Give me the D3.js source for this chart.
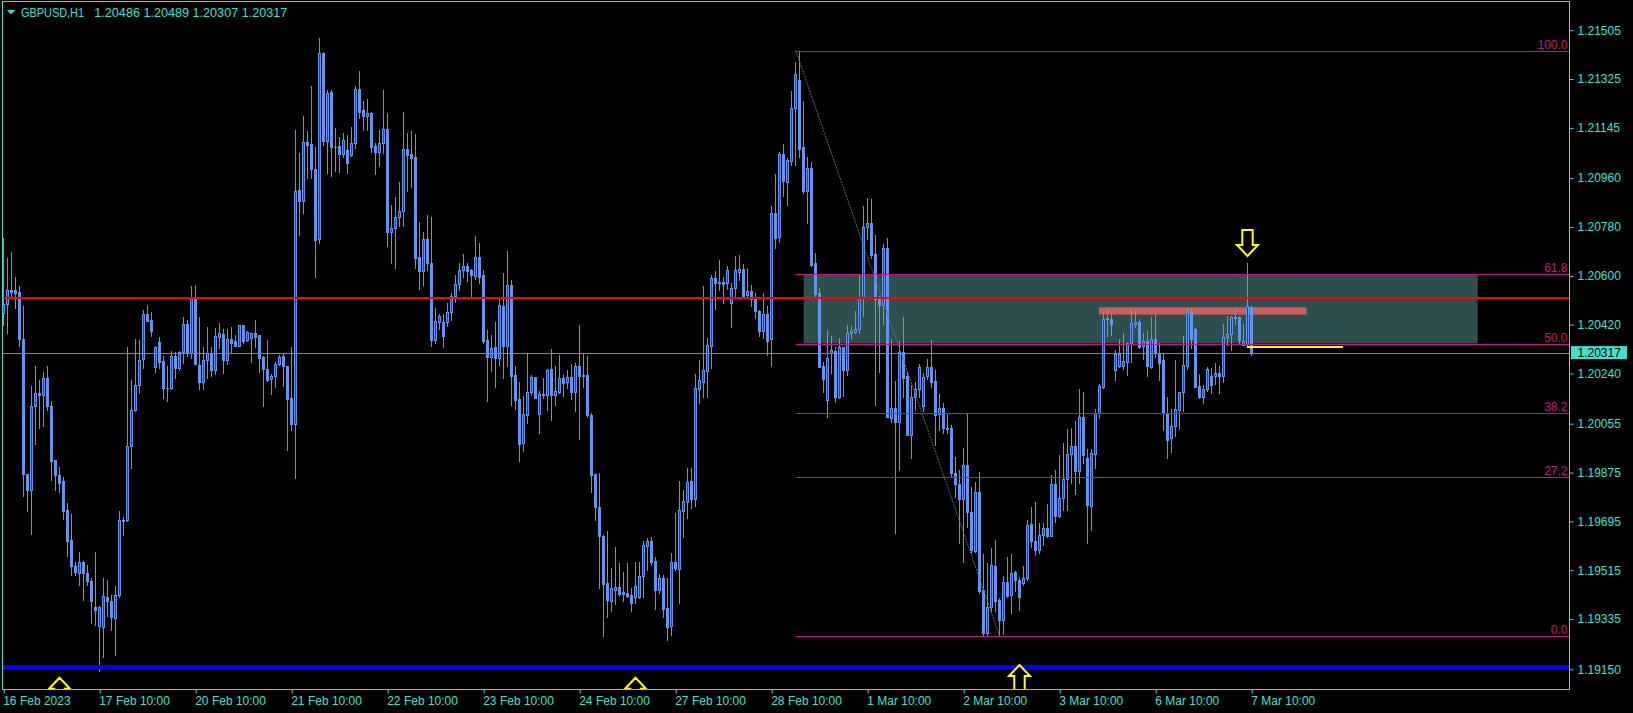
<!DOCTYPE html>
<html><head><meta charset="utf-8">
<script src="https://cdn.jsdelivr.net/npm/d3@7"></script>
<style>html,body{margin:0;padding:0;background:#000;overflow:hidden}</style>
</head><body><svg id="c" width="1633" height="713"></svg>
<script>
// ---- data (GBPUSD H1, 16 Feb 10:00 -> 7 Mar 10:00) ----
const symbol = "GBPUSD,H1";
const opens = [
1.20462,1.20495,1.20548,1.20548,1.20541,1.20366,1.19870,1.19809,1.20122,1.20167,
1.20162,1.20223,1.20121,1.19920,1.19867,1.19845,1.19738,1.19627,1.19531,1.19504,
1.19547,1.19504,1.19476,1.19380,1.19308,1.19305,1.19416,1.19402,1.19339,1.19422,
1.19701,1.19701,1.19971,1.20104,1.20196,1.20293,1.20460,1.20438,1.20263,1.20355,
1.20287,1.20188,1.20185,1.20305,1.20262,1.20321,1.20422,1.20315,1.20517,1.20272,
1.20210,1.20290,1.20317,1.20253,1.20376,1.20385,1.20290,1.20368,1.20360,1.20343,
1.20419,1.20362,1.20370,1.20389,1.20382,1.20299,1.20256,1.20219,1.20229,1.20276,
1.20303,1.20268,1.20149,1.20055,1.20917,1.20877,1.21092,1.21086,1.20995,1.20735,
1.21422,1.21095,1.21276,1.21074,1.21079,1.21050,1.21064,1.21046,1.21089,1.21287,
1.21211,1.21189,1.21201,1.21079,1.21058,1.21088,1.21140,1.20763,1.20775,1.20816,
1.20837,1.21066,1.21048,1.21037,1.20668,1.20619,1.20735,1.20646,1.20362,1.20428,
1.20429,1.20430,1.20465,1.20527,1.20569,1.20620,1.20637,1.20620,1.20599,1.20669,
1.20603,1.20364,1.20299,1.20337,1.20296,1.20489,1.20342,1.20566,1.20234,1.20146,
1.19983,1.20087,1.20171,1.20228,1.20090,1.20165,1.20161,1.20257,1.20159,1.20173,
1.20224,1.20210,1.20228,1.20170,1.20268,1.20232,1.20235,1.20087,1.19869,1.19749,
1.19643,1.19467,1.19403,1.19444,1.19452,1.19434,1.19430,1.19424,1.19415,1.19418,
1.19492,1.19606,1.19623,1.19550,1.19442,1.19485,1.19375,1.19311,1.19547,1.19520,
1.19735,1.19768,1.19845,1.19778,1.20183,1.20210,1.20250,1.20343,1.20591,1.20576,
1.20576,1.20575,1.20499,1.20554,1.20615,1.20625,1.20530,1.20544,1.20515,1.20472,
1.20398,1.20460,1.20366,1.20830,1.20744,1.21048,1.20947,1.21024,1.21220,1.21322,
1.21074,1.20914,1.20996,1.20646,1.20535,1.20267,1.20143,1.20315,1.20324,1.20155,
1.20337,1.20253,1.20388,1.20392,1.20403,1.20517,1.20781,1.20796,1.20681,1.20513,
1.20493,1.20701,1.20077,1.20112,1.20060,1.20321,1.20229,1.20014,1.20152,1.20182,
1.20122,1.20230,1.20263,1.20212,1.20089,1.20112,1.20040,1.20038,1.19875,1.19832,
1.19777,1.19901,1.19729,1.19587,1.19805,1.19443,1.19283,1.19381,1.19531,1.19406,
1.19330,1.19471,1.19422,1.19508,1.19479,1.19467,1.19488,1.19686,1.19623,1.19588,
1.19645,1.19670,1.19643,1.19833,1.19716,1.19780,1.19852,1.19944,1.19971,1.19882,
1.20079,1.19928,1.19753,1.19943,1.20096,1.20192,1.20440,1.20440,1.20253,1.20268,
1.20268,1.20284,1.20351,1.20422,1.20429,1.20340,1.20358,1.20265,1.20366,1.20317,
1.20288,1.20094,1.20002,1.20045,1.20106,1.20170,1.20266,1.20465,1.20403,1.20194,
1.20155,1.20182,1.20231,1.20229,1.20243,1.20229,1.20376,1.20385,1.20444,1.20447,
1.20345,1.20349,1.20486];
const highs = [
1.20738,1.20665,1.20687,1.20595,1.20563,1.20489,1.19870,1.20195,1.20268,1.20217,
1.20247,1.20268,1.20139,1.19922,1.19897,1.19857,1.19762,1.19723,1.19547,1.19584,
1.19550,1.19535,1.19486,1.19584,1.19382,1.19486,1.19480,1.19425,1.19458,1.19734,
1.19713,1.20337,1.20217,1.20368,1.20362,1.20474,1.20493,1.20466,1.20342,1.20373,
1.20303,1.20266,1.20323,1.20321,1.20323,1.20447,1.20438,1.20563,1.20567,1.20450,
1.20339,1.20413,1.20339,1.20407,1.20425,1.20403,1.20404,1.20411,1.20382,1.20419,
1.20419,1.20395,1.20391,1.20438,1.20382,1.20305,1.20364,1.20239,1.20284,1.20309,
1.20311,1.20268,1.20339,1.21138,1.21052,1.21189,1.21132,1.21300,1.21076,1.21475,
1.21426,1.21283,1.21285,1.21144,1.21113,1.21128,1.21119,1.21147,1.21300,1.21355,
1.21244,1.21250,1.21205,1.21088,1.21138,1.21285,1.21199,1.20861,1.20892,1.20944,
1.21203,1.21125,1.21134,1.21122,1.20800,1.20763,1.20825,1.20816,1.20481,1.20460,
1.20460,1.20499,1.20536,1.20603,1.20646,1.20681,1.20646,1.20624,1.20747,1.20720,
1.20622,1.20401,1.20382,1.20428,1.20514,1.20612,1.20692,1.20585,1.20266,1.20210,
1.20158,1.20317,1.20235,1.20228,1.20176,1.20225,1.20256,1.20331,1.20268,1.20308,
1.20235,1.20253,1.20275,1.20278,1.20419,1.20317,1.20305,1.20096,1.19870,1.19875,
1.19645,1.19660,1.19522,1.19600,1.19543,1.19510,1.19543,1.19449,1.19547,1.19547,
1.19621,1.19633,1.19639,1.19565,1.19501,1.19498,1.19485,1.19578,1.19727,1.19845,
1.19811,1.19891,1.19891,1.20238,1.20290,1.20563,1.20372,1.20603,1.20618,1.20659,
1.20597,1.20636,1.20575,1.20673,1.20677,1.20644,1.20627,1.20566,1.20536,1.20474,
1.20536,1.20489,1.20858,1.20975,1.21058,1.21086,1.21033,1.21282,1.21389,1.21430,
1.21244,1.21039,1.21018,1.20683,1.20554,1.20284,1.20400,1.20380,1.20339,1.20370,
1.20339,1.20419,1.20415,1.20472,1.20603,1.20858,1.20886,1.20882,1.20750,1.20526,
1.20717,1.20738,1.20367,1.20214,1.20360,1.20450,1.20247,1.20198,1.20210,1.20275,
1.20241,1.20292,1.20364,1.20253,1.20165,1.20130,1.20093,1.20050,1.19934,1.19885,
1.19965,1.20091,1.19823,1.19842,1.19876,1.19575,1.19541,1.19596,1.19627,1.19412,
1.19492,1.19563,1.19575,1.19513,1.19489,1.19531,1.19700,1.19747,1.19766,1.19688,
1.19688,1.19759,1.19866,1.19885,1.19940,1.19983,1.20035,1.20038,1.20065,1.20182,
1.20172,1.19961,1.19961,1.20108,1.20202,1.20468,1.20483,1.20459,1.20325,1.20366,
1.20391,1.20354,1.20480,1.20477,1.20440,1.20391,1.20398,1.20447,1.20456,1.20354,
1.20312,1.20155,1.20108,1.20290,1.20173,1.20379,1.20480,1.20480,1.20407,1.20239,
1.20198,1.20263,1.20259,1.20278,1.20266,1.20423,1.20452,1.20452,1.20477,1.20452,
1.20423,1.20649,1.20489];
const lows = [
1.20419,1.20389,1.20524,1.20481,1.20342,1.19787,1.19735,1.19648,1.19980,1.20041,
1.20045,1.20106,1.19846,1.19809,1.19805,1.19703,1.19566,1.19498,1.19498,1.19461,
1.19406,1.19461,1.19320,1.19314,1.19145,1.19197,1.19345,1.19296,1.19204,1.19418,
1.19646,1.19695,1.19891,1.20100,1.20167,1.20260,1.20432,1.20380,1.20244,1.20260,
1.20149,1.20140,1.20182,1.20225,1.20253,1.20280,1.20305,1.20296,1.20276,1.20182,
1.20182,1.20223,1.20231,1.20239,1.20333,1.20241,1.20276,1.20321,1.20342,1.20342,
1.20352,1.20358,1.20284,1.20339,1.20247,1.20122,1.20214,1.20165,1.20192,1.20272,
1.20195,1.19959,1.20032,1.19854,1.20751,1.20831,1.20960,1.20960,1.20597,1.20720,
1.21082,1.20980,1.20969,1.20988,1.20984,1.21039,1.20980,1.21042,1.21070,1.21181,
1.21138,1.21138,1.21058,1.20976,1.21005,1.21052,1.20708,1.20649,1.20630,1.20782,
1.20782,1.20914,1.20929,1.20630,1.20551,1.20567,1.20622,1.20342,1.20352,1.20403,
1.20337,1.20416,1.20438,1.20505,1.20548,1.20595,1.20579,1.20524,1.20588,1.20573,
1.20352,1.20137,1.20251,1.20190,1.20272,1.20223,1.20266,1.20124,1.20110,1.19916,
1.19956,1.20059,1.20161,1.20151,1.20022,1.20149,1.20106,1.20069,1.20124,1.20167,
1.20157,1.20188,1.20146,1.20102,1.19999,1.20192,1.20081,1.19805,1.19700,1.19451,
1.19273,1.19341,1.19365,1.19391,1.19424,1.19402,1.19415,1.19365,1.19393,1.19414,
1.19418,1.19516,1.19535,1.19371,1.19430,1.19341,1.19258,1.19277,1.19516,1.19396,
1.19637,1.19709,1.19743,1.19752,1.20133,1.20155,1.20155,1.20259,1.20477,1.20548,
1.20501,1.20550,1.20410,1.20526,1.20585,1.20523,1.20523,1.20487,1.20444,1.20379,
1.20370,1.20309,1.20266,1.20702,1.20726,1.20894,1.20861,1.21009,1.21009,1.21039,
1.20906,1.20796,1.20636,1.20523,1.20265,1.20170,1.20081,1.20241,1.20136,1.20149,
1.20157,1.20235,1.20370,1.20388,1.20388,1.20452,1.20735,1.20665,1.20124,1.20247,
1.20423,1.20081,1.20063,1.19652,1.19885,1.20155,1.20014,1.19928,1.20106,1.20155,
1.20103,1.20220,1.20189,1.19977,1.20032,1.20022,1.20020,1.19860,1.19786,1.19615,
1.19547,1.19676,1.19578,1.19584,1.19430,1.19275,1.19278,1.19363,1.19363,1.19271,
1.19280,1.19418,1.19357,1.19440,1.19369,1.19461,1.19479,1.19602,1.19572,1.19578,
1.19608,1.19639,1.19643,1.19691,1.19713,1.19737,1.19737,1.19838,1.19796,1.19838,
1.19912,1.19617,1.19664,1.19891,1.20077,1.20186,1.20378,1.20382,1.20216,1.20265,
1.20256,1.20235,1.20284,1.20410,1.20333,1.20293,1.20229,1.20259,1.20302,1.20216,
1.20032,1.19929,1.19951,1.20009,1.20035,1.20102,1.20256,1.20333,1.20189,1.20149,
1.20130,1.20177,1.20167,1.20202,1.20167,1.20210,1.20345,1.20327,1.20423,1.20349,
1.20345,1.20345,1.20307];
const closes = [
1.20495,1.20548,1.20542,1.20538,1.20366,1.19870,1.19809,1.20121,1.20167,1.20161,
1.20223,1.20122,1.19919,1.19867,1.19838,1.19735,1.19621,1.19529,1.19507,1.19547,
1.19504,1.19474,1.19400,1.19370,1.19378,1.19421,1.19400,1.19341,1.19425,1.19701,
1.19695,1.19973,1.20106,1.20198,1.20290,1.20460,1.20435,1.20395,1.20339,1.20284,
1.20188,1.20185,1.20305,1.20262,1.20321,1.20422,1.20315,1.20521,1.20276,1.20210,
1.20290,1.20315,1.20253,1.20379,1.20389,1.20290,1.20368,1.20354,1.20342,1.20419,
1.20358,1.20392,1.20389,1.20376,1.20296,1.20256,1.20217,1.20231,1.20276,1.20300,
1.20269,1.20147,1.20055,1.20913,1.20877,1.21092,1.21082,1.20995,1.20732,1.21420,
1.21095,1.21273,1.21074,1.21076,1.21049,1.21101,1.21017,1.21089,1.21287,1.21205,
1.21190,1.21199,1.21076,1.21058,1.21088,1.21140,1.20763,1.20775,1.20816,1.20839,
1.21066,1.21046,1.21033,1.20667,1.20619,1.20735,1.20646,1.20362,1.20432,1.20452,
1.20379,1.20466,1.20527,1.20569,1.20622,1.20637,1.20616,1.20603,1.20669,1.20597,
1.20358,1.20299,1.20333,1.20296,1.20493,1.20342,1.20566,1.20232,1.20143,1.19981,
1.20091,1.20171,1.20228,1.20151,1.20165,1.20161,1.20253,1.20159,1.20175,1.20224,
1.20206,1.20228,1.20170,1.20268,1.20232,1.20235,1.20087,1.19866,1.19749,1.19643,
1.19465,1.19406,1.19449,1.19452,1.19428,1.19428,1.19420,1.19393,1.19457,1.19494,
1.19608,1.19623,1.19547,1.19442,1.19485,1.19372,1.19307,1.19547,1.19522,1.19737,
1.19772,1.19839,1.19778,1.20186,1.20216,1.20253,1.20345,1.20591,1.20575,1.20572,
1.20570,1.20622,1.20554,1.20622,1.20625,1.20526,1.20544,1.20515,1.20472,1.20398,
1.20460,1.20361,1.20830,1.20741,1.21048,1.20951,1.21027,1.21217,1.21343,1.21067,
1.20914,1.20996,1.20640,1.20533,1.20265,1.20220,1.20296,1.20327,1.20155,1.20337,
1.20253,1.20388,1.20397,1.20404,1.20517,1.20781,1.20793,1.20677,1.20513,1.20493,
1.20701,1.20081,1.20112,1.20063,1.20321,1.20225,1.20014,1.20152,1.20182,1.20263,
1.20226,1.20263,1.20210,1.20087,1.20112,1.20038,1.20036,1.19875,1.19832,1.19777,
1.19901,1.19729,1.19590,1.19805,1.19440,1.19283,1.19381,1.19535,1.19403,1.19330,
1.19471,1.19421,1.19504,1.19479,1.19418,1.19488,1.19682,1.19621,1.19588,1.19645,
1.19670,1.19642,1.19833,1.19716,1.19780,1.19852,1.19944,1.19971,1.19882,1.20079,
1.19940,1.19756,1.19946,1.20096,1.20194,1.20440,1.20443,1.20423,1.20311,1.20312,
1.20286,1.20351,1.20425,1.20429,1.20337,1.20358,1.20268,1.20366,1.20315,1.20278,
1.20094,1.19995,1.20047,1.20108,1.20170,1.20272,1.20465,1.20366,1.20192,1.20155,
1.20182,1.20256,1.20198,1.20243,1.20229,1.20376,1.20385,1.20447,1.20447,1.20364,
1.20361,1.20487,1.20317];

const timeTickBars = [0,24,48,72,96,120,144,168,192,216,240,264,288,312];
const timeTickLabels = ["16 Feb 2023","17 Feb 10:00","20 Feb 10:00","21 Feb 10:00","22 Feb 10:00",
  "23 Feb 10:00","24 Feb 10:00","27 Feb 10:00","28 Feb 10:00","1 Mar 10:00","2 Mar 10:00",
  "3 Mar 10:00","6 Mar 10:00","7 Mar 10:00"];
const priceTicks = [1.21505,1.21325,1.21145,1.20960,1.20780,1.20600,1.20420,1.20240,
  1.20055,1.19875,1.19695,1.19515,1.19335,1.19150];

// objects
const fibBars = [198, 249];
const fibPrices = [1.21430, 1.19271];
const fibLevels = [100.0, 61.8, 50.0, 38.2, 27.2, 0.0];
const fibLabels = ["100.0","61.8","50.0","38.2","27,2","0.0"];
const zoneBars = [200, 368.5];          // rectangle between the 61.8 and 50.0 levels
const salmonBars = [273.8, 325.7];
const salmonPrices = [1.20484, 1.20457];
const redLevel = 1.20519;
const blueLevel = 1.19158;
const bidPrice = 1.20317;
const yellowBars = [310.8, 334.8];
const yellowLevel = 1.20338;
const arrowBars = [14, 158, 254, 311];
const arrowPrices = [1.19119, 1.19119, 1.19166, 1.20673];
const arrowDirs = ["up","up","up","down"];

// ---- drawing ----
const W = 1633, H = 713;
const L = 2.5, R = 1569.5, T = 1.5, B = 689.5;
const TQ = "#40E0D0", LIGHT = "#6495ED", DARK = "#1636FF", FIB = "#C71585";
const FONT = "'Liberation Sans', Arial, sans-serif";

const svg = d3.select("#c");
svg.append("rect").attr("width", W).attr("height", H).attr("fill", "#000");
svg.append("defs").append("clipPath").attr("id", "clip")
  .append("rect").attr("x", L).attr("y", T).attr("width", R - L).attr("height", B - T);

const N = opens.length;
const x = d3.scaleLinear().domain([0, N - 1]).range([3.7, 1251.7]);
const y = d3.scaleLinear().domain([1.19150, 1.21505]).range([669.3, 30.2]);

const g = svg.append("g").attr("clip-path", "url(#clip)");

// fib zone rectangle
const fibP = fibLevels.map(l => fibPrices[1] + l / 100 * (fibPrices[0] - fibPrices[1]));
g.append("rect")
  .attr("x", x(zoneBars[0])).attr("width", x(zoneBars[1]) - x(zoneBars[0]))
  .attr("y", y(fibP[1])).attr("height", y(fibP[2]) - y(fibP[1]))
  .attr("fill", "#2F4F4F");
// salmon zone
g.append("rect")
  .attr("x", x(salmonBars[0])).attr("width", x(salmonBars[1]) - x(salmonBars[0]))
  .attr("y", y(salmonPrices[0])).attr("height", y(salmonPrices[1]) - y(salmonPrices[0]))
  .attr("fill", "#CD5C5C");

// candles
const cg = g.append("g").attr("shape-rendering", "crispEdges");
d3.range(N).forEach(i => {
  const cx = Math.floor(x(i));
  const yh = Math.round(y(highs[i])), yl = Math.round(y(lows[i]));
  cg.append("rect").attr("x", cx).attr("y", yh).attr("width", 1)
    .attr("height", Math.max(1, yl - yh + 1)).attr("fill", LIGHT);
  const bt = Math.round(y(Math.max(opens[i], closes[i])));
  const bb = Math.round(y(Math.min(opens[i], closes[i])));
  const bh = Math.max(1, bb - bt + 1);
  cg.append("rect").attr("x", cx - 1).attr("y", bt).attr("width", 3).attr("height", bh).attr("fill", LIGHT);
  if (closes[i] > opens[i] && bh > 2) {
    cg.append("rect").attr("x", cx).attr("y", bt + 1).attr("width", 1).attr("height", bh - 2).attr("fill", DARK);
  }
});

// fibonacci levels
const fg = g.append("g");
fibP.forEach((p, k) => {
  const yy = Math.round(y(p)) + 0.5;
  fg.append("line").attr("x1", x(fibBars[0])).attr("x2", R).attr("y1", yy).attr("y2", yy)
    .attr("stroke", FIB).attr("stroke-width", 1);
  fg.append("text").attr("x", R - 2).attr("y", yy - 2.5).attr("text-anchor", "end")
    .attr("fill", FIB).attr("font-family", FONT).attr("font-size", 12).text(fibLabels[k]);
});
fg.append("line")
  .attr("x1", x(fibBars[0])).attr("y1", y(fibPrices[0]))
  .attr("x2", x(fibBars[1])).attr("y2", y(fibPrices[1]))
  .attr("stroke", "#4A7A6C").attr("stroke-width", 1).attr("stroke-dasharray", "2,1");

// horizontal lines
const hy = p => Math.round(y(p));
g.append("line").attr("x1", L).attr("x2", R).attr("y1", hy(bidPrice) + 0.5).attr("y2", hy(bidPrice) + 0.5)
  .attr("stroke", "#778899").attr("stroke-width", 1);
g.append("line").attr("x1", L).attr("x2", R).attr("y1", hy(redLevel)).attr("y2", hy(redLevel))
  .attr("stroke", "#FF0000").attr("stroke-width", 2);
g.append("line").attr("x1", L).attr("x2", R).attr("y1", hy(blueLevel)).attr("y2", hy(blueLevel))
  .attr("stroke", "#0000FF").attr("stroke-width", 4);
g.append("line").attr("x1", x(yellowBars[0])).attr("x2", x(yellowBars[1]))
  .attr("y1", hy(yellowLevel)).attr("y2", hy(yellowLevel))
  .attr("stroke", "#FFFF00").attr("stroke-width", 2);

// arrows
function arrowPath(cx, tip, dir) {
  const hw = 10.5, sw = 5.2, hh = 11, tot = 26, s = dir === "up" ? 1 : -1;
  const pts = [[cx, tip], [cx + hw, tip + s * hh], [cx + sw, tip + s * hh], [cx + sw, tip + s * tot],
               [cx - sw, tip + s * tot], [cx - sw, tip + s * hh], [cx - hw, tip + s * hh]];
  return "M" + pts.map(p => p[0] + "," + p[1]).join("L") + "Z";
}
arrowBars.forEach((b, k) => {
  g.append("path").attr("d", arrowPath(Math.floor(x(b)) + 0.5, y(arrowPrices[k]), arrowDirs[k]))
    .attr("fill", "#000").attr("stroke", "#FFFF00").attr("stroke-width", 2).attr("stroke-linejoin", "miter");
});

// frame
svg.append("rect").attr("x", L).attr("y", T).attr("width", R - L).attr("height", B - T)
  .attr("fill", "none").attr("stroke", TQ).attr("stroke-width", 1);

// axes
const yAxis = svg.append("g").attr("transform", `translate(${R},0)`)
  .call(d3.axisRight(y).tickValues(priceTicks).tickSize(4).tickPadding(4).tickFormat(d3.format(".5f")));
const xAxis = svg.append("g").attr("transform", `translate(0,${B})`)
  .call(d3.axisBottom(x).tickValues(timeTickBars).tickSize(4).tickPadding(3)
    .tickFormat((d, i) => timeTickLabels[i]));
[yAxis, xAxis].forEach(a => {
  a.select(".domain").remove();
  a.selectAll(".tick line").attr("stroke", TQ);
  a.selectAll(".tick text").attr("fill", TQ).attr("font-family", FONT).attr("font-size", 12);
});
xAxis.selectAll(".tick text").attr("text-anchor", "start").attr("x", -1);

// bid price box
const by = y(bidPrice);
svg.append("rect").attr("x", 1571).attr("y", by - 6.5).attr("width", 56).attr("height", 13).attr("fill", TQ);
svg.append("text").attr("x", 1577.5).attr("y", by + 4.3).attr("fill", "#000")
  .attr("font-family", FONT).attr("font-size", 12).text(d3.format(".5f")(bidPrice));

// title
svg.append("path").attr("d", "M7,10L15,10L11,14.5Z").attr("fill", TQ);
svg.append("text").attr("x", 21).attr("y", 16.5).attr("fill", TQ).attr("font-family", FONT)
  .attr("font-size", 12).attr("textLength", 63).attr("lengthAdjust", "spacingAndGlyphs").text(symbol);
const last = N - 1, f5 = d3.format(".5f");
svg.append("text").attr("x", 94.3).attr("y", 16.5).attr("fill", TQ).attr("font-family", FONT)
  .attr("font-size", 12).attr("textLength", 193).attr("lengthAdjust", "spacingAndGlyphs")
  .text([opens[last], highs[last], lows[last], closes[last]].map(f5).join(" "));
</script></body></html>
